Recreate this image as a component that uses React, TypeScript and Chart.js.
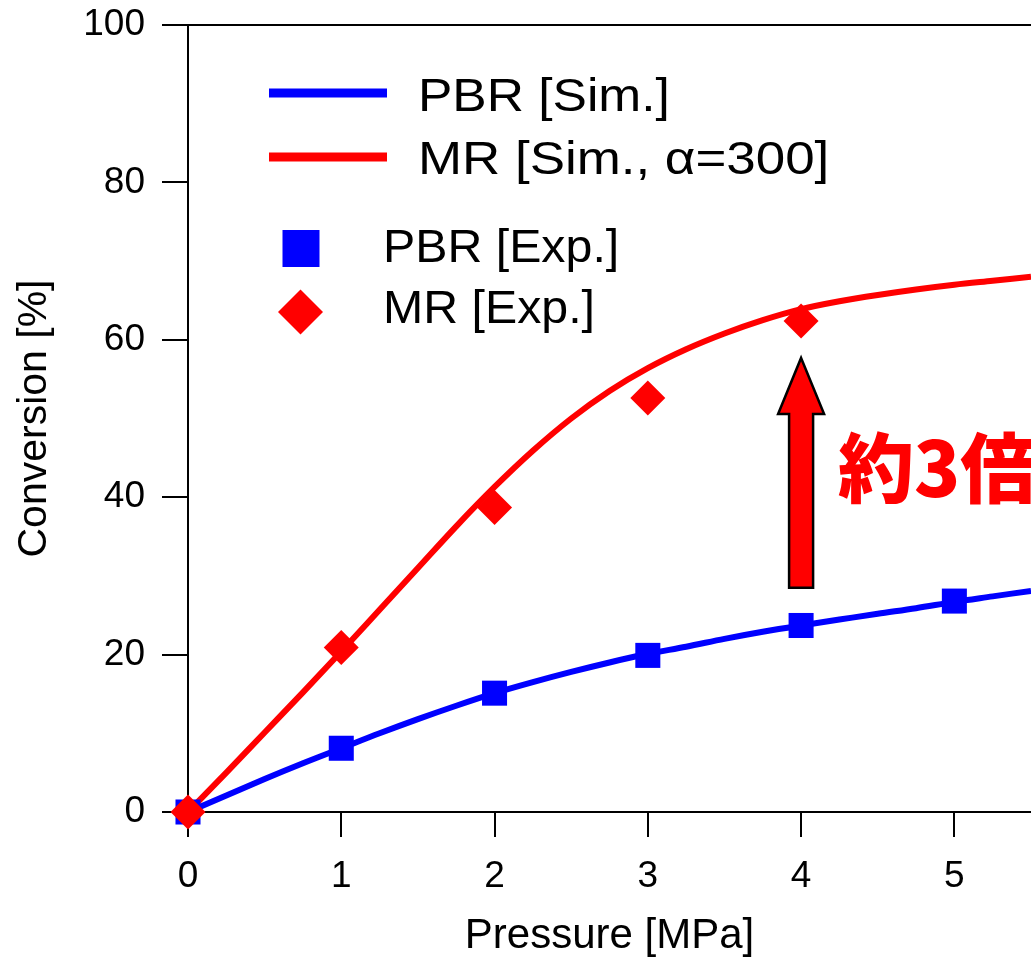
import React, { useEffect, useRef } from "react";
import { Chart, registerables } from "chart.js";

Chart.register(...registerables);

// ---- data ----
const SIM_PRESSURE = [0, 0.25, 0.5, 0.75, 1, 1.25, 1.5, 1.75, 2, 2.25, 2.5, 2.75, 3, 3.25, 3.5, 3.75, 4, 4.25, 4.5, 4.75, 5, 5.25, 5.5];
const PBR_SIM = [0, 2.1, 4.2, 6.2, 8.1, 10.0, 11.8, 13.5, 15.1, 16.5, 17.8, 19.0, 20.1, 21.0, 22.0, 22.9, 23.7, 24.45, 25.2, 25.9, 26.7, 27.4, 28.1];
const MR_SIM = [0, 5.0, 10.1, 15.2, 20.4, 25.7, 31.0, 36.3, 41.3, 45.9, 50.0, 53.5, 56.4, 58.8, 60.8, 62.5, 63.9, 64.9, 65.7, 66.4, 67.0, 67.5, 68.0];

const PBR_EXP_PRESSURE = [0, 1, 2, 3, 4, 5];
const PBR_EXP = [0, 8.1, 15.1, 19.9, 23.7, 26.8];
const MR_EXP_PRESSURE = [0, 1, 2, 3, 4];
const MR_EXP = [0, 20.9, 38.7, 52.6, 62.4];

const X_TICKS = [0, 1, 2, 3, 4, 5];
const Y_TICKS = [0, 20, 40, 60, 80, 100];
const X_MIN = 0;
const X_MAX = 5.5;
const Y_MIN = 0;
const Y_MAX = 100;

const X_TITLE = "Pressure [MPa]";
const Y_TITLE = "Conversion [%]";
const LEGEND_LABELS = ["PBR [Sim.]", "MR [Sim., α=300]", "PBR [Exp.]", "MR [Exp.]"];

const ANNOTATION_TEXT = "約3倍";
const ANNOTATION_X = 4.24;
const ANNOTATION_Y = 43.7;
const ARROW_X = 4;
const ARROW_FROM = 28.5;
const ARROW_TO = 57.7;

// ---- style ----
const BLUE = "#0000ff";
const RED = "#ff0000";
const FONT = "'Liberation Sans', Arial, Helvetica, sans-serif";

const pts = (xs: number[], ys: number[]) => xs.map((x, i) => ({ x, y: ys[i] }));

function stretchedText(ctx: any, text: string, x: number, y: number, sx: number) {
  ctx.save();
  ctx.translate(x, y);
  ctx.scale(sx, 1);
  ctx.fillText(text, 0, 0);
  ctx.restore();
}

const overlayPlugin = {
  id: "overlay",
  beforeDatasetsDraw(chart: any) {
    const { ctx, chartArea } = chart;
    ctx.save();
    ctx.strokeStyle = "#000";
    ctx.lineWidth = 2;
    ctx.beginPath();
    ctx.moveTo(chartArea.left, chartArea.top);
    ctx.lineTo(chartArea.right + 2, chartArea.top);
    ctx.stroke();
    ctx.restore();
  },
  afterDatasetsDraw(chart: any) {
    const { ctx } = chart;
    const xs = chart.scales.x;
    const ys = chart.scales.y;

    // arrow
    const ax = xs.getPixelForValue(ARROW_X);
    const base = ys.getPixelForValue(ARROW_FROM);
    const tip = ys.getPixelForValue(ARROW_TO);
    const headLen = 56;
    const shaftHalf = 12;
    const headHalf = 23;
    ctx.save();
    ctx.beginPath();
    ctx.moveTo(ax, tip);
    ctx.lineTo(ax + headHalf, tip + headLen);
    ctx.lineTo(ax + shaftHalf, tip + headLen);
    ctx.lineTo(ax + shaftHalf, base);
    ctx.lineTo(ax - shaftHalf, base);
    ctx.lineTo(ax - shaftHalf, tip + headLen);
    ctx.lineTo(ax - headHalf, tip + headLen);
    ctx.closePath();
    ctx.fillStyle = RED;
    ctx.fill();
    ctx.lineWidth = 2.5;
    ctx.lineJoin = "miter";
    ctx.strokeStyle = "#000";
    ctx.stroke();
    ctx.restore();

    // annotation text
    ctx.save();
    ctx.font = "900 76px 'Noto Sans CJK JP', 'Noto Sans CJK SC', sans-serif";
    ctx.fillStyle = RED;
    ctx.textAlign = "left";
    ctx.textBaseline = "middle";
    ctx.fillText(ANNOTATION_TEXT, xs.getPixelForValue(ANNOTATION_X), ys.getPixelForValue(ANNOTATION_Y));
    ctx.restore();

    // legend
    ctx.save();
    ctx.font = `46px ${FONT}`;
    ctx.fillStyle = "#000";
    ctx.textAlign = "left";
    ctx.textBaseline = "middle";
    ctx.lineCap = "butt";
    ctx.lineWidth = 9;
    ctx.strokeStyle = BLUE;
    ctx.beginPath();
    ctx.moveTo(269, 93);
    ctx.lineTo(387, 93);
    ctx.stroke();
    ctx.strokeStyle = RED;
    ctx.beginPath();
    ctx.moveTo(269, 157);
    ctx.lineTo(387, 157);
    ctx.stroke();
    stretchedText(ctx, LEGEND_LABELS[0], 418, 98, 1.12);
    stretchedText(ctx, LEGEND_LABELS[1], 418, 161, 1.15);

    ctx.fillStyle = BLUE;
    ctx.fillRect(301 - 18.5, 248.5 - 18.5, 37, 37);
    ctx.fillStyle = RED;
    ctx.beginPath();
    ctx.moveTo(300.5, 312 - 22.5);
    ctx.lineTo(300.5 + 22.5, 312);
    ctx.lineTo(300.5, 312 + 22.5);
    ctx.lineTo(300.5 - 22.5, 312);
    ctx.closePath();
    ctx.fill();
    ctx.fillStyle = "#000";
    stretchedText(ctx, LEGEND_LABELS[2], 383, 249, 1.05);
    stretchedText(ctx, LEGEND_LABELS[3], 383, 310, 1.05);
    ctx.restore();
  },
};

export default function App() {
  const ref = useRef<HTMLCanvasElement>(null);

  useEffect(() => {
    const canvas = ref.current;
    if (!canvas) return;
    const chart = new Chart(canvas, {
      type: "scatter",
      data: {
        datasets: [
          {
            label: LEGEND_LABELS[0],
            data: pts(SIM_PRESSURE, PBR_SIM),
            showLine: true,
            borderColor: BLUE,
            borderWidth: 6,
            pointRadius: 0,
            cubicInterpolationMode: "monotone",
            order: 3,
          },
          {
            label: LEGEND_LABELS[1],
            data: pts(SIM_PRESSURE, MR_SIM),
            showLine: true,
            borderColor: RED,
            borderWidth: 6,
            pointRadius: 0,
            cubicInterpolationMode: "monotone",
            order: 2,
          },
          {
            label: LEGEND_LABELS[2],
            data: pts(PBR_EXP_PRESSURE, PBR_EXP),
            showLine: false,
            pointStyle: "rect",
            pointRadius: 17.7,
            pointBackgroundColor: BLUE,
            backgroundColor: BLUE,
            pointBorderWidth: 0,
            borderWidth: 0,
            clip: false,
            order: 1,
          },
          {
            label: LEGEND_LABELS[3],
            data: pts(MR_EXP_PRESSURE, MR_EXP),
            showLine: false,
            pointStyle: "rectRot",
            pointRadius: 17.5,
            pointBackgroundColor: RED,
            backgroundColor: RED,
            pointBorderWidth: 0,
            borderWidth: 0,
            clip: false,
            order: 0,
          },
        ] as any,
      },
      options: {
        responsive: false,
        animation: false,
        devicePixelRatio: 1,
        layout: { autoPadding: false, padding: { top: 25, right: 0, left: 0, bottom: 0 } },
        plugins: {
          legend: { display: false },
          tooltip: { enabled: false },
        },
        font: { family: FONT },
        scales: {
          x: {
            type: "linear",
            min: X_MIN,
            max: X_MAX,
            afterBuildTicks: (s: any) => {
              s.ticks = X_TICKS.map((v) => ({ value: v }));
            },
            afterFit: (s: any) => {
              s.height = 145;
              s.paddingLeft = 0;
              s.paddingRight = 0;
              s.paddingTop = 0;
              s.paddingBottom = 0;
            },
            ticks: {
              color: "#000",
              font: { size: 37, family: FONT },
              padding: 18,
              maxRotation: 0,
              autoSkip: false,
            },
            grid: {
              drawOnChartArea: false,
              drawTicks: true,
              tickLength: 25,
              color: "#000",
              lineWidth: 2,
            },
            border: { display: true, color: "#000", width: 2 },
            title: {
              display: true,
              text: X_TITLE,
              color: "#000",
              font: { size: 42, family: FONT, lineHeight: 1 },
              padding: { top: 0, bottom: 0 },
            },
          },
          y: {
            type: "linear",
            min: Y_MIN,
            max: Y_MAX,
            afterBuildTicks: (s: any) => {
              s.ticks = Y_TICKS.map((v) => ({ value: v }));
            },
            afterFit: (s: any) => {
              s.width = 188;
              s.paddingLeft = 0;
              s.paddingRight = 0;
              s.paddingTop = 0;
              s.paddingBottom = 0;
            },
            ticks: {
              color: "#000",
              font: { size: 37, family: FONT },
              padding: 17,
              autoSkip: false,
            },
            grid: {
              drawOnChartArea: false,
              drawTicks: true,
              tickLength: 26,
              color: "#000",
              lineWidth: 2,
            },
            border: { display: true, color: "#000", width: 2 },
            title: {
              display: true,
              text: Y_TITLE,
              color: "#000",
              font: { size: 41, family: FONT, lineHeight: 1 },
              padding: { top: 14, bottom: 0 },
            },
          },
        },
      } as any,
      plugins: [overlayPlugin],
    });
    return () => chart.destroy();
  }, []);

  return (
    <div style={{ position: "fixed", left: 0, top: 0, width: 1031, height: 957, background: "#fff", overflow: "hidden" }}>
      <canvas ref={ref} width={1031} height={957} style={{ display: "block", width: 1031, height: 957 }} />
    </div>
  );
}
